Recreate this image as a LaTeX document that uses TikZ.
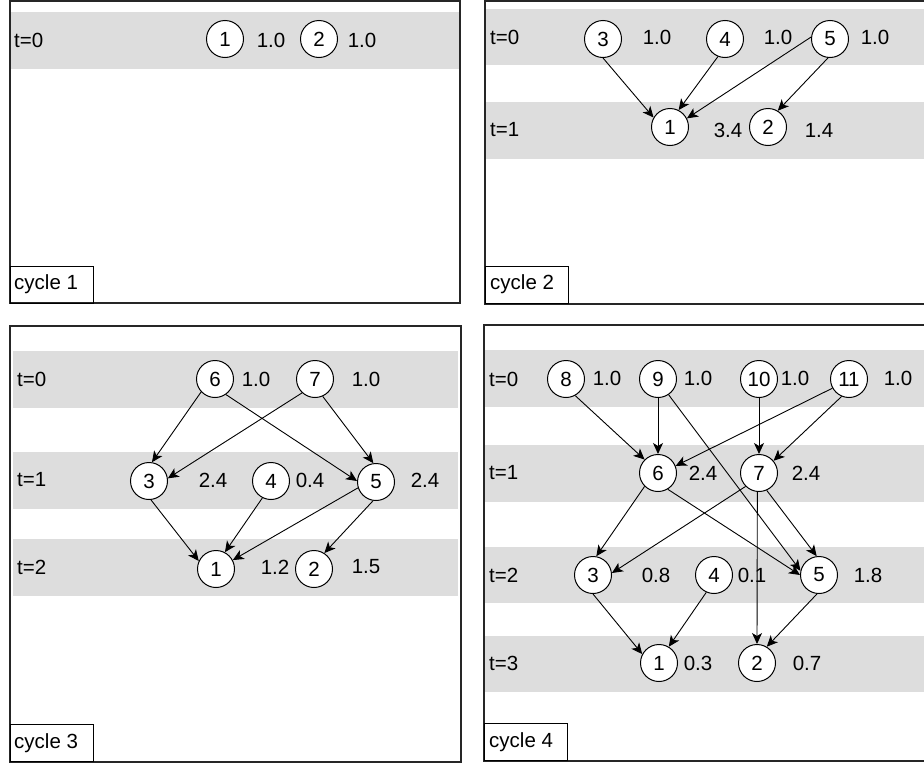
\documentclass[tikz,border=0pt]{standalone}
\usepackage{fontspec}
\setmainfont{Liberation Sans}
\usetikzlibrary{arrows.meta}
\definecolor{bandgray}{RGB}{221,221,221}
\begin{document}
\begin{tikzpicture}[x=1pt,y=-1pt,
  font=\fontsize{20.5}{24}\selectfont,
  panel/.style={draw=black!85,line width=1.3pt},
  band/.style={fill=bandgray,draw=none},
  vn/.style={circle,draw,line width=1pt,fill=white,minimum size=37pt,inner sep=0pt},
  val/.style={inner sep=0pt,anchor=center},
  tl/.style={inner sep=0pt,anchor=west},
  cyc/.style={draw,line width=1pt,anchor=north west,minimum width=83pt,minimum height=37pt,inner sep=0pt},
  cyt/.style={inner sep=0pt,anchor=west},
  edge/.style={line width=0.9pt,-{Stealth[length=11pt,width=10pt,inset=3pt]}}]
\useasboundingbox[fill=white] (0,0) rectangle (924,763);
% ---------------- panel 1 ----------------
\fill[band] (10,12) rectangle (460,69);
\draw[panel] (10,1) rectangle (460,303);
\node[tl] (p1t0) at (14,40) {t=0};
\node[vn] (a1) at (225,39) {1};
\node[vn] (a2) at (319,39) {2};
\node[val] (a1v) at (271,40) {1.0};
\node[val] (a2v) at (362,40) {1.0};
\node[cyc] (c1) at (10,266) {};
\node[cyt] (c1t) at (14,284) {cycle 1};
% ---------------- panel 2 ----------------
\fill[band] (485,9) rectangle (940,65);
\fill[band] (485,102) rectangle (940,159);
\draw[panel] (485,1) rectangle (940,304);
\node[tl] (p2t0) at (490,37) {t=0};
\node[tl] (p2t1) at (490,130) {t=1};
\node[vn] (b3) at (603,39) {3};
\node[vn] (b4) at (725,39) {4};
\node[vn] (b5) at (830,39) {5};
\node[vn] (b1) at (670,127) {1};
\node[vn] (b2) at (768,127) {2};
\node[val] (b3v) at (657,37) {1.0};
\node[val] (b4v) at (778,37) {1.0};
\node[val] (b5v) at (875,37) {1.0};
\node[val] (b1v) at (728,130) {3.4};
\node[val] (b2v) at (819,130) {1.4};
\draw[edge] (b3.south) -- (b1.150);
\draw[edge] (b4.248) -- (b1.63);
\draw[edge] (b5.174) -- (b1.27);
\draw[edge] (b5.264) -- (b2.59);
\node[cyc] (c2) at (485,266) {};
\node[cyt] (c2t) at (490,284) {cycle 2};
% ---------------- panel 3 ----------------
\fill[band] (13,351) rectangle (458,408);
\fill[band] (13,452) rectangle (458,509);
\fill[band] (13,539) rectangle (458,596);
\draw[panel] (10,326) rectangle (461,762);
\node[tl] (p3t0) at (17,379) {t=0};
\node[tl] (p3t1) at (17,480) {t=1};
\node[tl] (p3t2) at (17,567) {t=2};
\node[vn] (c6) at (215,379) {6};
\node[vn] (c7) at (315,379) {7};
\node[vn] (c3) at (149,481) {3};
\node[vn] (c4) at (271,481) {4};
\node[vn] (c5) at (376,482) {5};
\node[vn] (cc1) at (216,569) {1};
\node[vn] (cc2) at (314,569) {2};
\node[val] (c6v) at (256,379) {1.0};
\node[val] (c7v) at (366,379) {1.0};
\node[val] (c3v) at (213,480) {2.4};
\node[val] (c4v) at (310,480) {0.4};
\node[val] (c5v) at (425,480) {2.4};
\node[val] (cc1v) at (275,567) {1.2};
\node[val] (cc2v) at (366,567) {1.5};
\draw[edge] (c6.223) -- (c3.81);
\draw[edge] (c6.305) -- (c5.177);
\draw[edge] (c7.227) -- (c3.8);
\draw[edge] (c7.294) -- (c5.98);
\draw[edge] (c3.276) -- (cc1.155);
\draw[edge] (c4.243) -- (cc1.62);
\draw[edge] (c5.198) -- (cc1.28);
\draw[edge] (c5.261) -- (cc2.57);
\node[cyc] (c3b) at (10,724) {};
\node[cyt] (c3t) at (14,743) {cycle 3};
% ---------------- panel 4 ----------------
\fill[band] (484,350) rectangle (940,407);
\fill[band] (484,445) rectangle (940,502);
\fill[band] (484,547) rectangle (940,603);
\fill[band] (484,636) rectangle (940,692);
\draw[panel] (484,325) rectangle (940,761);
\node[tl] (p4t0) at (489,379) {t=0};
\node[tl] (p4t1) at (489,473) {t=1};
\node[tl] (p4t2) at (489,575) {t=2};
\node[tl] (p4t3) at (489,663) {t=3};
\node[vn] (d8) at (566,379) {8};
\node[vn] (d9) at (658,379) {9};
\node[vn] (d10) at (759,379) {10};
\node[vn] (d11) at (849,379) {11};
\node[vn] (d6) at (658,473) {6};
\node[vn] (d7) at (759,473) {7};
\node[vn] (d3) at (593,575) {3};
\node[vn] (d4) at (714,575) {4};
\node[vn] (d5) at (819,575) {5};
\node[vn] (dd1) at (659,663) {1};
\node[vn] (dd2) at (757,663) {2};
\node[val] (d8v) at (607,378) {1.0};
\node[val] (d9v) at (698,378) {1.0};
\node[val] (d10v) at (795,378) {1.0};
\node[val] (d11v) at (898,378) {1.0};
\node[val] (d6v) at (703,473) {2.4};
\node[val] (d7v) at (806,473) {2.4};
\node[val] (d3v) at (656,575) {0.8};
\node[val] (d4v) at (752,575) {0.1};
\node[val] (d5v) at (868,575) {1.8};
\node[val] (dd1v) at (698,663) {0.3};
\node[val] (dd2v) at (807,663) {0.7};
\draw[edge] (d8.299) -- (d6.135);
\draw[edge] (d9.south) -- (d6.north);
\draw[edge] (d9.304) -- (d5.167);
\draw[edge] (d10.south) -- (d7.north);
\draw[edge] (d11.209) -- (d6.22);
\draw[edge] (d11.247) -- (d7.40);
\draw[edge] (d6.225) -- (d3.80);
\draw[edge] (d6.301) -- (d5.180);
\draw[edge] (d7.225) -- (d3.6);
\draw[edge] (d7.294) -- (d5.97);
\draw[edge] (d7.265) -- (dd2.north);
\draw[edge] (d3.south) -- (dd1.152);
\draw[edge] (d4.246) -- (dd1.59);
\draw[edge] (d5.264) -- (dd2.59);
\node[cyc] (c4b) at (484,723) {};
\node[cyt] (c4t) at (489,742) {cycle 4};
\end{tikzpicture}
\end{document}
